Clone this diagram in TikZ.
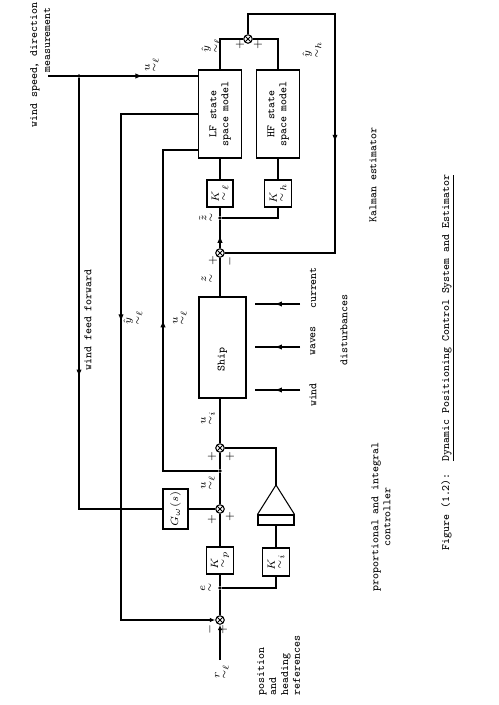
\documentclass[tikz,border=0pt]{standalone}
\usepackage{amsmath,amssymb}
\usepackage{tikz}
\usetikzlibrary{arrows.meta,positioning,calc,decorations.markings}
\newcommand{\uvec}[1]{\underset{\sim}{#1}}

\begin{document}
\begin{tikzpicture}[x=0.02cm, y=-0.02cm, line width=0.6pt, >=Latex,
    every node/.style={font=\fontsize{6.4}{6.8}\selectfont\ttfamily},
    blk/.style 2 args={draw, inner sep=0pt, minimum width=#1, minimum height=#2},
    sum/.style={draw, circle, inner sep=0pt, minimum size=0.17cm,
      path picture={\draw[line width=0.5pt] (path picture bounding box.south east) -- (path picture bounding box.north west)
        (path picture bounding box.south west) -- (path picture bounding box.north east);}},
    dot/.style={circle, fill, inner sep=0pt, minimum size=2.2pt},
    lbl/.style={rotate=90, inner sep=1pt},
    flow/.style={postaction={decorate}, decoration={markings, mark=at position #1 with {\arrow{Latex[length=4pt,width=3pt]}}}}]
    \useasboundingbox (0,0) rectangle (499,705);

    % estimator
    \node[blk={0.86cm}{1.76cm}] (lf) at (220,114) {\rotatebox{90}{\begin{tabular}{@{}c@{}}LF state\\space model\end{tabular}}};
    \node[blk={0.86cm}{1.76cm}] (hf) at (278,114) {\rotatebox{90}{\begin{tabular}{@{}c@{}}HF state\\space model\end{tabular}}};
    \node[blk={0.52cm}{0.54cm}] (kl) at (220,193.5) {\rotatebox{90}{$\uvec{K}_\ell$}};
    \node[blk={0.54cm}{0.54cm}] (kh) at (278,193.5) {\rotatebox{90}{$\uvec{K}_h$}};
    \node[sum] (s1) at (248,39) {};
    \node[sum] (s2) at (220,253) {};
    \node[dot] (zj) at (220,218) {};
    \coordinate (ktop) at (335,14);

    % ship and controller
    \node[blk={0.94cm}{2.02cm}] (ship) at (222.5,347.5) {\rotatebox{90}{Ship\hspace*{0.48cm}}};
    \node[sum] (s3) at (220,448) {};
    \node[dot] (uj) at (220,471) {};
    \node[sum] (s4) at (220,509) {};
    \node[blk={0.5cm}{0.8cm}] (gw) at (175.5,509) {\rotatebox{90}{$G_\omega(s)$}};
    \node[blk={0.54cm}{0.54cm}] (kp) at (220,560.5) {\rotatebox{90}{$\uvec{K}_p$}};
    \node[blk={0.54cm}{0.56cm}] (ki) at (276,562) {\rotatebox{90}{$\uvec{K}_i$}};
    \node[draw, inner sep=0pt, minimum width=0.72cm, minimum height=0.2cm] (ibar) at (276,520) {};
    \coordinate (iapex) at (276,485);
    \node[dot] (ej) at (220,588) {};
    \node[sum] (s5) at (220,620) {};
    \coordinate (rin) at (220,660);
    \coordinate (wsrc) at (48,76);
    \node[dot] (wj) at (79,76) {};
    \coordinate (yfb) at (121,114);
    \coordinate (ulc) at (163,150);

    % connections
    \draw (lf.north) |- (s1.west);
    \draw (hf.north) |- (s1.east);
    \draw[flow=0.515] (s1.north) |- (ktop) |- (s2.east);
    \draw (s2.south |- ship.north) -- (s2.south);
    \draw[flow=0.45] (s2.north) -- (zj);
    \draw (zj) -- (kl.south);
    \draw (zj) -| (kh.south);
    \draw (kl.north) -- (lf.south);
    \draw (kh.north) -- (hf.south);
    \draw[flow=0.63] (wsrc) -- (wsrc -| lf.west);
    \draw[flow=0.58] (wj) |- (gw.west);
    \draw[flow=0.42, -{Latex[length=3pt,width=2.5pt]}] (yfb -| lf.west) -- (yfb) |- (s5.west);
    \draw[flow=0.5] (uj) -| (ulc) -- (ulc -| lf.west);
    \draw (s3.north) -- (s3.north |- ship.south);
    \draw (s4) -- (uj) -- (s3);
    \draw (gw.east) -- (s4.west);
    \draw (s3.east) -| (iapex);
    \draw (ibar.north west) -- (iapex) -- (ibar.north east);
    \draw (ki.north) -- (ibar.south);
    \draw (kp.north) -- (s4.south);
    \draw (s5.north) -- (ej) -- (kp.south);
    \draw (ej) -| (ki.south);
    \draw[-{Latex[length=3pt,width=2.5pt]}] (rin) -- (s5.south);

    % disturbances
    \foreach \dy/\nm in {304/dc, 347/dv, 390/dw} {
      \coordinate (\nm0) at (300,\dy);
      \coordinate (\nm1) at (255,\dy);
      \draw[flow=0.56] (\nm0) -- (\nm1);
    }

    % signal labels
    \node[lbl] (lu) at (152,65) {$\uvec{u}_\ell$};
    \node[lbl] (lyl) at (211,46) {$\hat{\uvec{y}}_\ell$};
    \node[lbl] (lyh) at (312,50) {$\hat{\uvec{y}}_h$};
    \node[lbl] at (240,45) {$+$};
    \node[lbl] at (258,45) {$+$};
    \node[lbl] (lzh) at (207,218) {$\tilde{\uvec{z}}$};
    \node[lbl] (lz) at (208,279) {$\uvec{z}$};
    \node[lbl] at (213,261) {$+$};
    \node[lbl] at (230,261) {$-$};
    \node[lbl] (lyf) at (133,318) {$\hat{\uvec{y}}_\ell$};
    \node[lbl] (luf) at (180,318) {$\uvec{u}_\ell$};
    \node[lbl] (lui) at (208,418) {$\uvec{u}_i$};
    \node[lbl] at (212,457) {$+$};
    \node[lbl] at (230,457) {$+$};
    \node[lbl] (lul) at (208,483) {$\uvec{u}_\ell$};
    \node[lbl] at (212,520) {$+$};
    \node[lbl] at (230,517) {$+$};
    \node[lbl] (le) at (207,588) {$\uvec{e}$};
    \node[lbl] at (210,629) {$-$};
    \node[lbl] at (223,630) {$+$};
    \node[lbl] (lr) at (222,672) {$\uvec{r}_\ell$};

    % texts
    \node[lbl, anchor=west] (wsd) at (35,130) {wind speed, direction};
    \node[lbl] (wmeas) at (47,40) {measurement};
    \node[lbl] (wff) at (88,320) {wind feed forward};
    \node[lbl] (tcur) at (313,288) {current};
    \node[lbl] (twav) at (313,341) {waves};
    \node[lbl] (twin) at (313,395) {wind};
    \node[lbl] (tdist) at (344,330) {disturbances};
    \node[lbl] (tkal) at (373,175) {Kalman estimator};
    \node[lbl, align=center] (tpi) at (381,517) {proportional and integral\\controller};
    \node[lbl, align=left, anchor=north west] (tref) at (255,698) {position\\and\\heading\\references};
    \node[lbl, anchor=base west] (cap) at (449,553) {Figure (1.2):~~\underline{Dynamic Positioning Control System and Estimator}};
\end{tikzpicture}
\end{document}
